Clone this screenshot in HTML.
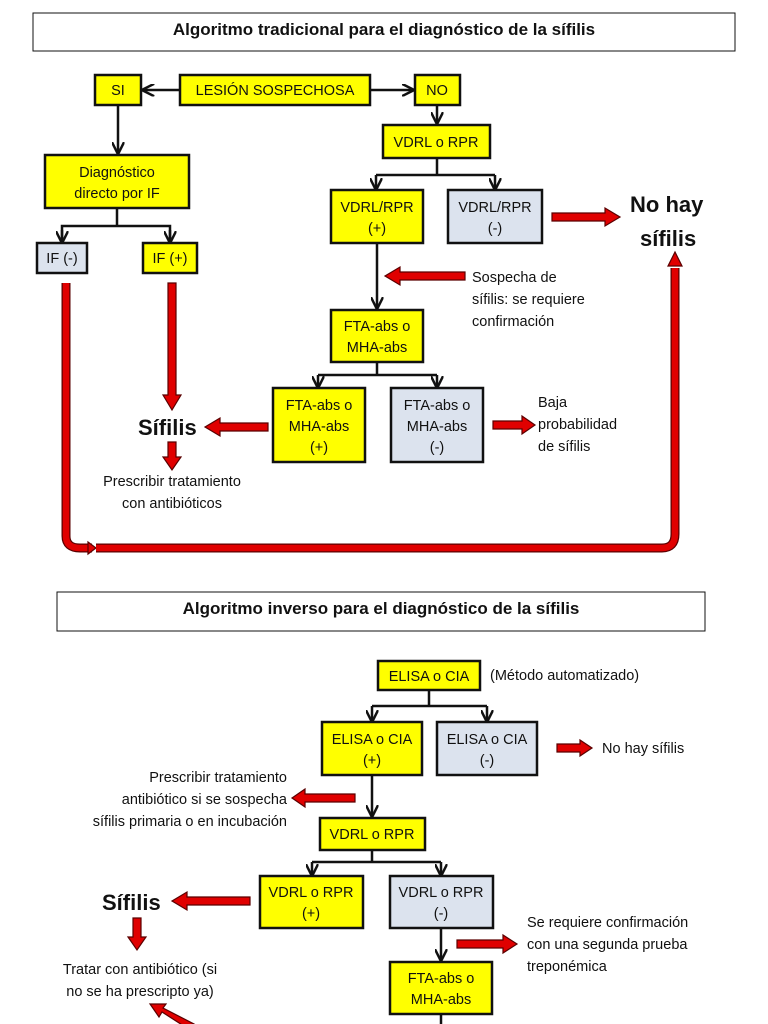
<!DOCTYPE html>
<html><head><meta charset="utf-8"><style>
body{margin:0;background:#fff;width:768px;height:1024px;overflow:hidden}
svg{display:block}
text{font-family:"Liberation Sans",sans-serif;fill:#111}
.b{fill:#ffff00;stroke:#111;stroke-width:2.5}
.g{fill:#dce3ee;stroke:#111;stroke-width:2.5}
.t{font-size:14.5px;text-anchor:middle}
.l{stroke:#111;stroke-width:2.5;fill:none}
.r{fill:#e00000;stroke:#5a0000;stroke-width:1.2}
.s{font-size:14.5px}
</style></head><body>
<svg width="768" height="1024" viewBox="0 0 768 1024">
<defs><marker id="a" viewBox="0 0 10 10" refX="9" refY="5" markerWidth="5" markerHeight="5" orient="auto"><path d="M0,0 L10,5 L0,10" fill="none" stroke="#111" stroke-width="2"/></marker></defs>
<rect x="33" y="13" width="702" height="38" fill="#fff" stroke="#111" stroke-width="1"/>
<text x="384" y="35" font-size="17" font-weight="bold" text-anchor="middle">Algoritmo tradicional para el diagnóstico de la sífilis</text>

<rect class="b" x="95" y="75" width="46" height="30"/><text class="t" x="118" y="95">SI</text>
<rect class="b" x="180" y="75" width="190" height="30"/><text class="t" x="275" y="95">LESIÓN SOSPECHOSA</text>
<rect class="b" x="415" y="75" width="45" height="30"/><text class="t" x="437" y="95">NO</text>
<line class="l" x1="180" y1="90" x2="143" y2="90" marker-end="url(#a)"/>
<line class="l" x1="370" y1="90" x2="413" y2="90" marker-end="url(#a)"/>
<line class="l" x1="118" y1="105" x2="118" y2="153" marker-end="url(#a)"/>
<rect class="b" x="45" y="155" width="144" height="53"/><text class="t" x="117" y="177">Diagnóstico</text><text class="t" x="117" y="198">directo por IF</text>
<path class="l" d="M117 208 V226 M62 241 V226 H170 V241"/>
<line class="l" x1="62" y1="230" x2="62" y2="242" marker-end="url(#a)"/><line class="l" x1="170" y1="230" x2="170" y2="242" marker-end="url(#a)"/>
<rect class="g" x="37" y="243" width="50" height="30"/><text class="t" x="62" y="263">IF (-)</text>
<rect class="b" x="143" y="243" width="54" height="30"/><text class="t" x="170" y="263">IF (+)</text>

<line class="l" x1="437" y1="105" x2="437" y2="123" marker-end="url(#a)"/>
<rect class="b" x="383" y="125" width="107" height="33"/><text class="t" x="436" y="147">VDRL o RPR</text>
<path class="l" d="M437 158 V175 M376 175 H495"/>
<line class="l" x1="376" y1="175" x2="376" y2="189" marker-end="url(#a)"/><line class="l" x1="495" y1="175" x2="495" y2="189" marker-end="url(#a)"/>
<rect class="b" x="331" y="190" width="92" height="53"/><text class="t" x="377" y="212">VDRL/RPR</text><text class="t" x="377" y="233">(+)</text>
<rect class="g" x="448" y="190" width="94" height="53"/><text class="t" x="495" y="212">VDRL/RPR</text><text class="t" x="495" y="233">(-)</text>
<polygon class="r" points="552,213 605,213 605,208 620,217 605,226 605,221 552,221"/>
<text x="630" y="212" font-size="22" font-weight="bold">No hay</text>
<text x="640" y="246" font-size="22" font-weight="bold">sífilis</text>
<line class="l" x1="377" y1="243" x2="377" y2="308" marker-end="url(#a)"/>
<polygon class="r" points="465,272 400,272 400,267 385,276 400,285 400,280 465,280"/>
<text class="s" x="472" y="282">Sospecha de</text><text class="s" x="472" y="304">sífilis: se requiere</text><text class="s" x="472" y="326">confirmación</text>
<rect class="b" x="331" y="310" width="92" height="52"/><text class="t" x="377" y="331">FTA-abs o</text><text class="t" x="377" y="352">MHA-abs</text>
<path class="l" d="M377 362 V375 M318 375 H437"/>
<line class="l" x1="318" y1="375" x2="318" y2="387" marker-end="url(#a)"/><line class="l" x1="437" y1="375" x2="437" y2="387" marker-end="url(#a)"/>
<rect class="b" x="273" y="388" width="92" height="74"/><text class="t" x="319" y="410">FTA-abs o</text><text class="t" x="319" y="431">MHA-abs</text><text class="t" x="319" y="452">(+)</text>
<rect class="g" x="391" y="388" width="92" height="74"/><text class="t" x="437" y="410">FTA-abs o</text><text class="t" x="437" y="431">MHA-abs</text><text class="t" x="437" y="452">(-)</text>
<polygon class="r" points="493,421 522,421 522,416 535,425 522,434 522,429 493,429"/>
<text class="s" x="538" y="407">Baja</text><text class="s" x="538" y="429">probabilidad</text><text class="s" x="538" y="451">de sífilis</text>
<polygon class="r" points="268,423 220,423 220,418 205,427 220,436 220,431 268,431"/>
<text x="138" y="435" font-size="22" font-weight="bold">Sífilis</text>
<polygon class="r" points="168,283 176,283 176,395 181,395 172,410 163,395 168,395"/>
<polygon class="r" points="168,442 176,442 176,457 181,457 172,470 163,457 168,457"/>
<text class="t" x="172" y="486">Prescribir tratamiento</text><text class="t" x="172" y="508">con antibióticos</text>
<path d="M66 283 V536 Q66 548 80 548 H92" fill="none" stroke="#5a0000" stroke-width="9"/>
<path d="M66 283 V536 Q66 548 80 548 H92" fill="none" stroke="#e00000" stroke-width="6.5"/>
<polygon class="r" points="88,542 96,548 88,554"/>
<path d="M96 548 H662 Q675 548 675 534 V518 M675 518 V268" fill="none" stroke="#5a0000" stroke-width="9"/>
<path d="M96 548 H662 Q675 548 675 534 V268" fill="none" stroke="#e00000" stroke-width="6.5"/>
<polygon class="r" points="668,266 675,252 682,266"/>

<rect x="57" y="592" width="648" height="39" fill="#fff" stroke="#111" stroke-width="1"/>
<text x="381" y="614" font-size="17" font-weight="bold" text-anchor="middle">Algoritmo inverso para el diagnóstico de la sífilis</text>
<rect class="b" x="378" y="661" width="102" height="29"/><text class="t" x="429" y="681">ELISA o CIA</text>
<text class="s" x="490" y="680">(Método automatizado)</text>
<path class="l" d="M429 690 V706 M372 706 H487"/>
<line class="l" x1="372" y1="706" x2="372" y2="721" marker-end="url(#a)"/><line class="l" x1="487" y1="706" x2="487" y2="721" marker-end="url(#a)"/>
<rect class="b" x="322" y="722" width="100" height="53"/><text class="t" x="372" y="744">ELISA o CIA</text><text class="t" x="372" y="765">(+)</text>
<rect class="g" x="437" y="722" width="100" height="53"/><text class="t" x="487" y="744">ELISA o CIA</text><text class="t" x="487" y="765">(-)</text>
<polygon class="r" points="557,744 580,744 580,740 592,748 580,756 580,752 557,752"/>
<text class="s" x="602" y="753">No hay sífilis</text>
<polygon class="r" points="355,794 305,794 305,789 292,798 305,807 305,802 355,802"/>
<text class="s" x="287" y="782" text-anchor="end">Prescribir tratamiento</text>
<text class="s" x="287" y="804" text-anchor="end">antibiótico si se sospecha</text>
<text class="s" x="287" y="826" text-anchor="end">sífilis primaria o en incubación</text>
<line class="l" x1="372" y1="775" x2="372" y2="816" marker-end="url(#a)"/>
<rect class="b" x="320" y="818" width="105" height="32"/><text class="t" x="372" y="839">VDRL o RPR</text>
<path class="l" d="M372 850 V862 M312 862 H441"/>
<line class="l" x1="312" y1="862" x2="312" y2="875" marker-end="url(#a)"/><line class="l" x1="441" y1="862" x2="441" y2="875" marker-end="url(#a)"/>
<rect class="b" x="260" y="876" width="103" height="52"/><text class="t" x="311" y="897">VDRL o RPR</text><text class="t" x="311" y="918">(+)</text>
<rect class="g" x="390" y="876" width="103" height="52"/><text class="t" x="441" y="897">VDRL o RPR</text><text class="t" x="441" y="918">(-)</text>
<polygon class="r" points="250,897 187,897 187,892 172,901 187,910 187,905 250,905"/>
<text x="102" y="910" font-size="22" font-weight="bold">Sífilis</text>
<polygon class="r" points="133,918 141,918 141,937 146,937 137,950 128,937 133,937"/>
<text class="t" x="140" y="974">Tratar con antibiótico (si</text><text class="t" x="140" y="996">no se ha prescripto ya)</text>
<line class="l" x1="441" y1="928" x2="441" y2="960" marker-end="url(#a)"/>
<polygon class="r" points="457,940 503,940 503,935 517,944 503,953 503,948 457,948"/>
<text class="s" x="527" y="927">Se requiere confirmación</text><text class="s" x="527" y="949">con una segunda prueba</text><text class="s" x="527" y="971">treponémica</text>
<rect class="b" x="390" y="962" width="102" height="52"/><text class="t" x="441" y="983">FTA-abs o</text><text class="t" x="441" y="1004">MHA-abs</text>
<line class="l" x1="441" y1="1014" x2="441" y2="1024"/>
<polygon class="r" points="190,1030 162,1012 159,1017 150,1004 166,1004 163,1008 194,1024"/>
</svg>
</body></html>
